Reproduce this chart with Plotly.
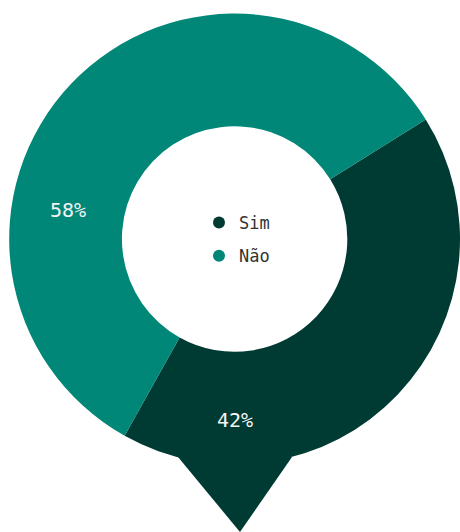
import math
import plotly.graph_objects as go

# Survey answer split
categories = ["Sim", "Não"]
values = [42, 58]
colors = ["#003b33", "#018777"]

W, H = 460, 532
FONT = "DejaVu Sans Mono"

# Pie placement (paper fractions)
dom_x = [0.02, 1.0]
cy_px = 239
dom_y_half = 0.44
dom_y = [1 - cy_px / H - dom_y_half, 1 - cy_px / H + dom_y_half]
hole = 0.5
rotation = 58

fig = go.Figure()
fig.add_trace(go.Pie(
    labels=categories,
    values=values,
    marker=dict(colors=colors, line=dict(width=0)),
    hole=hole,
    sort=False,
    direction="clockwise",
    rotation=rotation,
    textinfo="none",
    hoverinfo="label+percent",
    showlegend=False,
    domain=dict(x=dom_x, y=dom_y),
))

# Legend entries with round markers
for i, (name, col) in enumerate(zip(categories, colors)):
    fig.add_trace(go.Scatter(
        x=[None], y=[None], mode="markers", name=name,
        marker=dict(color=col, size=12, symbol="circle"),
        legendgroup=f"g{i}", showlegend=True,
    ))

# Geometry of the ring in pixels
cx = (dom_x[0] + dom_x[1]) / 2 * W
cy = cy_px
r_out = (dom_x[1] - dom_x[0]) * W / 2
r_mid = r_out * (1 + hole) / 2

# Percentage labels placed on the ring
label_angles = [180, 280]
label_radii = [r_mid * 1.07, r_mid]
total = sum(values)
for v, ang, rr in zip(values, label_angles, label_radii):
    a = math.radians(ang)
    px = cx + rr * math.sin(a)
    py = cy - rr * math.cos(a)
    fig.add_annotation(
        x=px / W, y=1 - py / H, xref="paper", yref="paper",
        xanchor="center", yanchor="middle",
        text=f"{round(100 * v / total)}%", showarrow=False,
        font=dict(family=FONT, size=20, color="#f4f4f4"),
    )

# Pointer below the "Sim" slice
tip = (240, 532)
base_l = (178, 457)
base_r = (292, 457)
def p(pt):
    return f"{pt[0] / W:.4f},{1 - pt[1] / H:.4f}"
fig.add_shape(
    type="path", xref="paper", yref="paper",
    path=f"M {p(base_l)} L {p(base_r)} L {p(tip)} Z",
    fillcolor=colors[0], line=dict(width=0), layer="below",
)

fig.update_layout(
    width=W, height=H,
    margin=dict(l=0, r=0, t=0, b=0),
    paper_bgcolor="white", plot_bgcolor="white",
    xaxis=dict(visible=False), yaxis=dict(visible=False),
    legend=dict(
        x=199 / W, y=1 - 205 / H, xanchor="left", yanchor="top",
        font=dict(family=FONT, size=17, color="#333333"),
        tracegroupgap=8, bgcolor="rgba(0,0,0,0)",
    ),
)

fig.write_html("out.html")
